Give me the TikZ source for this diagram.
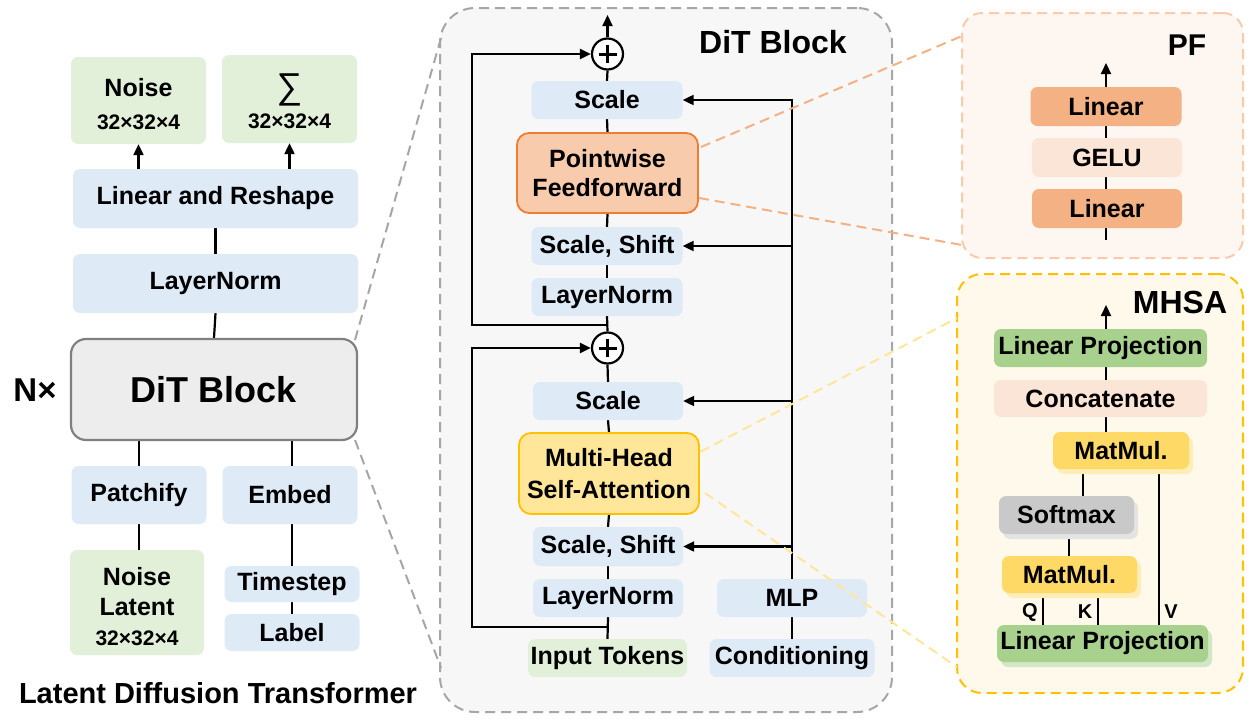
\documentclass[tikz,border=0pt]{standalone}
\usepackage{fontspec}
\setmainfont{Liberation Sans}
\usetikzlibrary{arrows.meta,shadows,calc}
\definecolor{cblue}{HTML}{DEEBF7}
\definecolor{cgreen}{HTML}{E2F0D9}
\definecolor{cdit}{HTML}{EDEDED}
\definecolor{cditb}{HTML}{808080}
\definecolor{cpanel}{HTML}{F7F7F7}
\definecolor{cpanelb}{HTML}{A6A6A6}
\definecolor{cpff}{HTML}{F8CBAD}
\definecolor{cpffb}{HTML}{ED7D31}
\definecolor{cmha}{HTML}{FFE699}
\definecolor{cmhab}{HTML}{FFC000}
\definecolor{cpf}{HTML}{FDF6F1}
\definecolor{cpfb}{HTML}{F8CBAD}
\definecolor{cmh}{HTML}{FFF9EC}
\definecolor{clin}{HTML}{F4B183}
\definecolor{cgelu}{HTML}{FBE5D6}
\definecolor{clp}{HTML}{A9D18E}
\definecolor{clps}{HTML}{D3E7C6}
\definecolor{cmm}{HTML}{FFD966}
\definecolor{cmms}{HTML}{FFEDB8}
\definecolor{csoft}{HTML}{C9C9C9}
\definecolor{csofts}{HTML}{E4E4E4}
\definecolor{cpfline}{HTML}{F4B183}
\definecolor{cmhline}{HTML}{FFE699}
\pgfdeclarelayer{bg}
\pgfdeclarelayer{lines}
\pgfdeclarelayer{top}
\pgfsetlayers{bg,lines,main,top}
\tikzset{
  txt/.style={font=\fontsize{25}{30}\selectfont\bfseries},
  box/.style={rectangle, rounded corners=7pt, inner sep=0pt, txt},
  bbox/.style={box, fill=cblue},
  gbox/.style={box, fill=cgreen},
  conn/.style={line width=2.2pt, black},
  arr/.style={conn, -{Triangle[length=11pt,width=10pt]}},
  zline/.style={line width=2pt, dash pattern=on 10pt off 6pt},
  panelbox/.style={rectangle, line width=2pt, dash pattern=on 10pt off 6pt, inner sep=0pt},
  ttl/.style={inner sep=0pt, font=\fontsize{#1}{#1}\selectfont\bfseries},
  shad/.style={drop shadow={shadow xshift=4pt, shadow yshift=-5pt, opacity=1, fill=#1}},
  plusnode/.style={circle, draw=black, line width=2.2pt, fill=white, minimum size=31pt, inner sep=0pt,
    path picture={\draw[line width=3pt]
      ([xshift=-9pt]path picture bounding box.center) -- ([xshift=9pt]path picture bounding box.center)
      ([yshift=-9pt]path picture bounding box.center) -- ([yshift=9pt]path picture bounding box.center);}},
}
\begin{document}
\begin{tikzpicture}[x=1pt,y=-1pt]
\useasboundingbox (0,0) rectangle (1254,720);

% ---------- panels ----------
\begin{pgfonlayer}{bg}
\node[panelbox, draw=cpanelb, fill=cpanel, rounded corners=35pt, minimum width=452pt, minimum height=704pt] (dpanel) at (666,360) {};
\node[panelbox, draw=cpfb, fill=cpf, rounded corners=20pt, minimum width=281pt, minimum height=245pt] (pfpanel) at (1102.5,135.5) {};
\node[panelbox, draw=cmhab, fill=cmh, rounded corners=25pt, minimum width=286pt, minimum height=419pt] (mhpanel) at (1100,483.5) {};
\end{pgfonlayer}

% ---------- left column ----------
\node[gbox, minimum width=135pt, minimum height=87pt, align=center, font=\fontsize{25}{33}\selectfont\bfseries] (noise) at (138.5,100.5)
  {\rule{0pt}{25pt}Noise\\{\fontsize{21}{33}\selectfont 32×32×4}};
\node[gbox, minimum width=135pt, minimum height=88pt, align=center, font=\fontsize{21}{30}\selectfont\bfseries] (sigma) at (289.5,99)
  {\rule{0pt}{30pt}{\fontsize{36}{30}\selectfont\mdseries ∑}\\32×32×4};
\node[bbox, minimum width=285pt, minimum height=59pt] (linres) at (215.5,198.5) {Linear and Reshape};
\node[bbox, minimum width=285pt, minimum height=59pt] (ln1) at (215.5,283.5) {LayerNorm};
\node[rectangle, rounded corners=15pt, draw=cditb, fill=cdit, line width=2.2pt, inner sep=0pt,
      minimum width=286pt, minimum height=101pt, font=\fontsize{36}{40}\selectfont\bfseries] (dit) at (214,389.5) {DiT Block};
\node[ttl=33] (nx) at (35,390) {N×};
\node[bbox, minimum width=135pt, minimum height=58pt] (patch) at (139,495) {Patchify};
\node[bbox, minimum width=135pt, minimum height=58pt] (embed) at (290,495) {Embed};
\node[gbox, minimum width=134pt, minimum height=105pt, align=center] (nlat) at (137,602.5)
  {\rule{0pt}{26pt}Noise\\Latent\\{\fontsize{21}{30}\selectfont 32×32×4}};
\node[bbox, minimum width=135pt, minimum height=36pt] (tstep) at (292,584) {Timestep};
\node[bbox, minimum width=135pt, minimum height=37pt] (label) at (292,632.5) {Label};
\node[ttl=29] (ldt) at (218,693) {Latent Diffusion Transformer};

\begin{pgfonlayer}{lines}
\draw[arr] (linres.north -| noise.south) -- (noise.south);
\draw[arr] (linres.north -| sigma.south) -- (sigma.south);
\draw[conn] (linres.south) -- (ln1.north);
\draw[conn] (ln1.south) -- (dit.north);
\draw[conn] (dit.south -| patch.north) -- (patch.north);
\draw[conn] (dit.south -| tstep.north) -- (embed.south -| tstep.north);
\draw[conn] (patch.south) -- (patch.south |- nlat.north);
\draw[conn] (embed.south -| tstep.north) -- (tstep.north);
\draw[conn] (tstep.south) -- (label.north);
\end{pgfonlayer}

% ---------- middle: DiT block detail ----------
\node[ttl=32] (dtitle) at (773,42) {DiT Block};
\node[plusnode] (plus1) at (607.5,54) {};
\node[bbox, minimum width=151pt, minimum height=38pt] (scale1) at (607,100) {Scale};
\node[box, fill=cpff, draw=cpffb, line width=1.8pt, rounded corners=12pt, minimum width=181pt, minimum height=80pt, align=center,
      font=\fontsize{25}{29}\selectfont\bfseries] (pff) at (607.5,173) {Pointwise\\Feedforward};
\node[bbox, minimum width=151pt, minimum height=38pt] (ss1) at (607,246) {Scale, Shift};
\node[bbox, minimum width=151pt, minimum height=38pt] (ln2) at (607,297) {LayerNorm};
\node[plusnode] (plus2) at (607.5,348) {};
\node[bbox, minimum width=150pt, minimum height=38pt] (scale2) at (608,401) {Scale};
\node[box, fill=cmha, draw=cmhab, line width=1.8pt, rounded corners=12pt, minimum width=180pt, minimum height=81pt, align=center,
      font=\fontsize{25}{32}\selectfont\bfseries] (mhsa) at (609,473.5) {Multi-Head\\Self-Attention};
\node[bbox, minimum width=150pt, minimum height=39pt] (ss2) at (608,546.5) {Scale, Shift};
\node[bbox, minimum width=150pt, minimum height=38pt] (ln3) at (608,598) {LayerNorm};
\node[bbox, minimum width=150pt, minimum height=38pt] (mlp) at (792,598) {MLP};
\node[gbox, minimum width=159pt, minimum height=38pt] (intok) at (607.5,658) {Input Tokens};
\node[bbox, minimum width=165pt, minimum height=38pt] (cond) at (792,658) {Conditioning};

\coordinate (outtop) at (607.5,15);
\coordinate (skx) at (472,0);
\coordinate (br1) at (607.5,627);
\coordinate (br2) at (607.5,325);

\begin{pgfonlayer}{lines}
\draw[conn] (intok.north) -- (ln3.south);
\draw[conn] (ln3.north) -- (ss2.south);
\draw[conn] (ss2.north) -- (mhsa.south);
\draw[conn] (mhsa.north) -- (scale2.south);
\draw[conn] (scale2.north) -- (plus2.south);
\draw[conn] (plus2.north) -- (ln2.south);
\draw[conn] (ln2.north) -- (ss1.south);
\draw[conn] (ss1.north) -- (pff.south);
\draw[conn] (pff.north) -- (scale1.south);
\draw[conn] (scale1.north) -- (plus1.south);
\draw[arr] (plus1.north) -- (outtop);
\draw[arr] (br1) -- (br1 -| skx) -- (skx |- plus2) -- (plus2.west);
\draw[arr] (br2) -- (br2 -| skx) -- (skx |- plus1) -- (plus1.west);
\draw[conn] (cond.north) -- (mlp.south);
\draw[arr] (mlp.north) -- (mlp.north |- scale1.east) -- (scale1.east);
\draw[arr] (mlp.north |- ss1.east) -- (ss1.east);
\draw[arr] (mlp.north |- scale2.east) -- (scale2.east);
\draw[arr] (mlp.north |- ss2.east) -- (ss2.east);
\end{pgfonlayer}

% ---------- PF panel ----------
\node[ttl=30] (pftitle) at (1187,45) {PF};
\node[box, fill=clin, minimum width=151pt, minimum height=39pt] (lin1) at (1106,106.5) {Linear};
\node[box, fill=cgelu, minimum width=150pt, minimum height=39pt] (gelu) at (1107,157.5) {GELU};
\node[box, fill=clin, minimum width=150pt, minimum height=39pt] (lin2) at (1107,208.5) {Linear};
\coordinate (pfx) at (1106,0);
\coordinate (pfin) at (1106,240);
\coordinate (pfout) at (1106,63);
\begin{pgfonlayer}{lines}
\draw[conn] (pfin) -- (lin2.south -| pfx);
\draw[conn] (lin2.north -| pfx) -- (gelu.south -| pfx);
\draw[conn] (gelu.north -| pfx) -- (lin1.south -| pfx);
\draw[arr] (lin1.north -| pfx) -- (pfout);
\end{pgfonlayer}

% ---------- MHSA panel ----------
\node[ttl=32] (mhtitle) at (1180,302) {MHSA};
\node[box, fill=clp, minimum width=213pt, minimum height=38pt] (lp1) at (1100.5,348) {Linear Projection};
\node[box, fill=cgelu, minimum width=213pt, minimum height=37pt] (concat) at (1100.5,398.5) {Concatenate};
\node[box, fill=cmm, shad=cmms, minimum width=136pt, minimum height=37pt] (mm1) at (1121,450.5) {MatMul.};
\node[box, fill=csoft, shad=csofts, minimum width=135pt, minimum height=38pt] (soft) at (1066.5,515) {Softmax};
\node[box, fill=cmm, shad=cmms, minimum width=135pt, minimum height=37pt] (mm2) at (1069.5,574.5) {MatMul.};
\node[box, fill=clp, shad=clps, minimum width=211pt, minimum height=37pt] (lp2) at (1102.5,643.5) {Linear Projection};
\node[ttl=20] (lq) at (1030,612) {Q};
\node[ttl=20] (lk) at (1085,612) {K};
\node[ttl=20] (lv) at (1171,612) {V};
\coordinate (mx) at (1106,0);
\coordinate (mhout) at (1106,305);
\coordinate (xa) at (1083,0);
\coordinate (xb) at (1069,0);
\coordinate (xq) at (1043,0);
\coordinate (xk) at (1098,0);
\coordinate (xv) at (1159,0);
\begin{pgfonlayer}{lines}
\draw[arr] (lp1.north -| mx) -- (mhout);
\draw[conn] (lp1.south -| mx) -- (concat.north -| mx);
\draw[conn] (concat.south -| mx) -- (mm1.north -| mx);
\draw[conn] (mm1.south -| xa) -- (soft.north -| xa);
\draw[conn] (soft.south -| xb) -- (mm2.north -| xb);
\draw[conn] (mm2.south -| xq) -- (lp2.north -| xq);
\draw[conn] (mm2.south -| xk) -- (lp2.north -| xk);
\draw[conn] (mm1.south -| xv) -- (lp2.north -| xv);
\end{pgfonlayer}

% ---------- zoom connectors ----------
\coordinate (zl1a) at (355,340);
\coordinate (zl1b) at (441,38);
\coordinate (zl2a) at (355,440);
\coordinate (zl2b) at (441,668);
\coordinate (zp1a) at (701,147);
\coordinate (zp1b) at (962,36);
\coordinate (zp2a) at (699,198);
\coordinate (zp2b) at (962,245);
\coordinate (zm1a) at (700,452);
\coordinate (zm1b) at (957,318);
\coordinate (zm2a) at (705,493);
\coordinate (zm2b) at (957,667);
\begin{pgfonlayer}{top}
\draw[zline, draw=cpanelb] (zl1a) -- (zl1b);
\draw[zline, draw=cpanelb] (zl2a) -- (zl2b);
\draw[zline, draw=cpfline] (zp1a) -- (zp1b);
\draw[zline, draw=cpfline] (zp2a) -- (zp2b);
\draw[zline, draw=cmhline] (zm1a) -- (zm1b);
\draw[zline, draw=cmhline] (zm2a) -- (zm2b);
\end{pgfonlayer}
\end{tikzpicture}
\end{document}
